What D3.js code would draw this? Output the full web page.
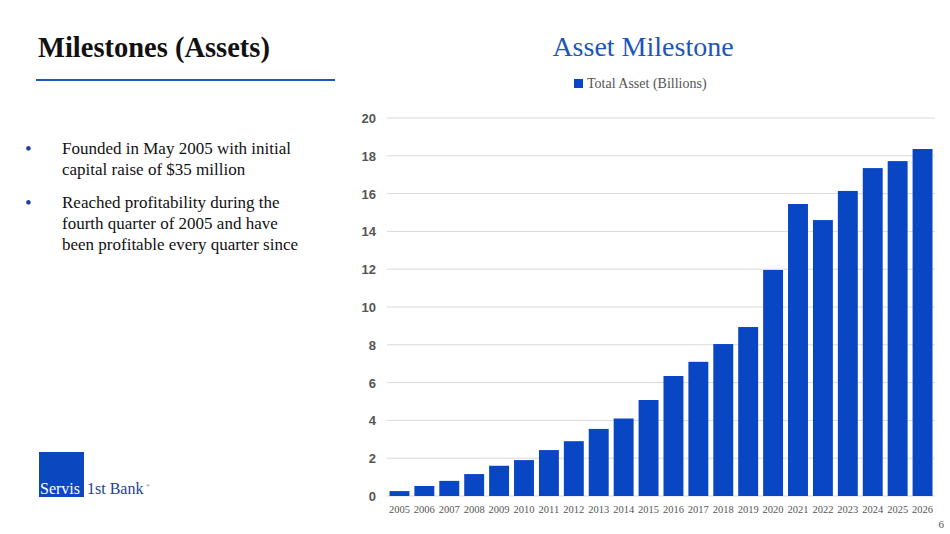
<!DOCTYPE html>
<html><head><meta charset="utf-8">
<script src="https://cdn.jsdelivr.net/npm/d3@7"></script>
<style>body{margin:0;background:#fff}svg{display:block}</style>
</head><body><svg id="c" width="950" height="534"></svg>
<script>
var years = ['2005','2006','2007','2008','2009','2010','2011','2012','2013','2014','2015','2016','2017','2018','2019','2020','2021','2022','2023','2024','2025','2026'];
var assets = [0.26,0.53,0.8,1.16,1.6,1.9,2.43,2.9,3.55,4.1,5.08,6.35,7.1,8.04,8.94,11.96,15.45,14.6,16.14,17.35,17.72,18.36];
var yTicks = [0,2,4,6,8,10,12,14,16,18,20];
var blue = '#0846c4';
var svg = d3.select('#c');
var serif = 'Garamond, "Liberation Serif", "DejaVu Serif", serif';

svg.append('text').attr('x',38).attr('y',57).attr('font-family',serif).attr('font-weight','bold')
  .attr('font-size',28.5).attr('fill','#111').text('Milestones (Assets)');
svg.append('line').attr('x1',36).attr('x2',335).attr('y1',80).attr('y2',80).attr('stroke','#1e55b8').attr('stroke-width',2);

var bullets = [['Founded in May 2005 with initial','capital raise of $35 million'],
  ['Reached profitability during the','fourth quarter of 2005 and have','been profitable every quarter since']];
var by = 154;
bullets.forEach(function(b){
  svg.append('text').attr('x',25).attr('y',by+1).attr('font-size',19).attr('fill','#1e3f9f').text('•');
  b.forEach(function(l,i){
    svg.append('text').attr('x',62).attr('y',by+i*21).attr('font-family',serif).attr('font-size',17).attr('fill','#111').text(l);
  });
  by += b.length*21 + 12;
});

// logo
svg.append('rect').attr('x',39).attr('y',452).attr('width',45).attr('height',45).attr('fill','#0b47bf');
svg.append('text').attr('x',40).attr('y',494).attr('font-family',serif).attr('font-size',16).attr('fill','#fff').text('Servis');
svg.append('text').attr('x',87).attr('y',494).attr('font-family',serif).attr('font-size',16).attr('fill','#1e3f8f').text('1st Bank');
svg.append('text').attr('x',146).attr('y',487).attr('font-size',5).attr('fill','#1e3f8f').text('®');
svg.append('text').attr('x',944).attr('y',528).attr('text-anchor','end').attr('font-family',serif).attr('font-size',11).attr('fill','#555').text('6');

svg.append('text').attr('x',643).attr('y',56).attr('text-anchor','middle').attr('font-family',serif)
  .attr('font-size',28).attr('fill','#1e55b8').text('Asset Milestone');
svg.append('rect').attr('x',574).attr('y',79).attr('width',9).attr('height',9).attr('fill',blue);
svg.append('text').attr('x',587).attr('y',88).attr('font-family',serif).attr('font-size',14).attr('fill','#555').text('Total Asset (Billions)');

var x = d3.scaleBand().domain(years).range([387,935]).paddingInner(0.2).paddingOuter(0.1);
var y = d3.scaleLinear().domain([0,20]).range([496,118]);
var g = svg.append('g');
g.selectAll('line.grid').data(yTicks).join('line').attr('class','grid')
  .attr('x1',387).attr('x2',935).attr('y1',function(d){return y(d);}).attr('y2',function(d){return y(d);})
  .attr('stroke','#d9d9d9').attr('stroke-width',1);
g.selectAll('text.yt').data(yTicks).join('text').attr('class','yt')
  .attr('x',376).attr('y',function(d){return y(d)+5;}).attr('text-anchor','end')
  .attr('font-family','"Liberation Sans", Arial, sans-serif').attr('font-weight','bold').attr('font-size',13).attr('fill','#555')
  .text(function(d){return d;});
g.selectAll('rect.bar').data(assets).join('rect').attr('class','bar')
  .attr('x',function(d,i){return x(years[i]);}).attr('width',x.bandwidth())
  .attr('y',function(d){return y(d);}).attr('height',function(d){return y(0)-y(d);}).attr('fill',blue);
g.selectAll('text.xt').data(years).join('text').attr('class','xt')
  .attr('x',function(d){return x(d)+x.bandwidth()/2;}).attr('y',513).attr('text-anchor','middle')
  .attr('font-family',serif).attr('font-size',10.5).attr('fill','#555').text(function(d){return d;});
</script></body></html>
